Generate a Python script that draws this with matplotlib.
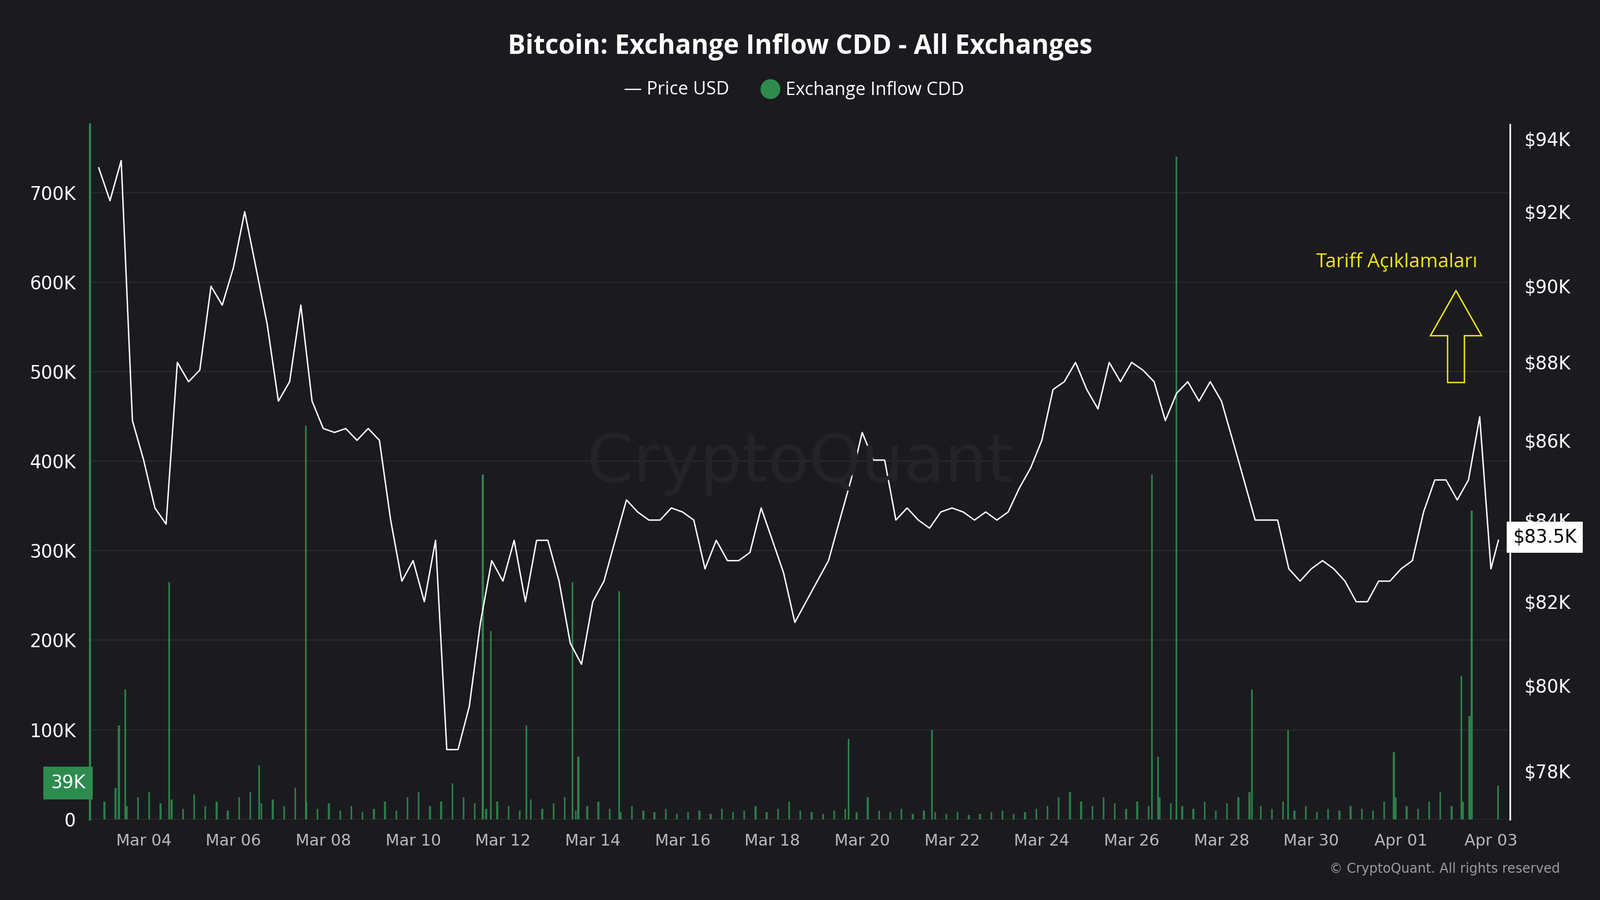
import matplotlib
matplotlib.use("Agg")
import matplotlib.pyplot as plt
import matplotlib.dates as mdates
from matplotlib.patches import FancyArrow, Ellipse
import datetime as dt

start = dt.datetime(2025, 3, 3)
price_k = [93.2, 92.3, 93.4, 86.5,
           85.5, 84.3, 83.9, 88.0,
           87.5, 87.8, 90.0, 89.5,
           90.5, 92.0, 90.5, 89.0,
           87.0, 87.5, 89.5, 87.0,
           86.3, 86.2, 86.3, 86.0,
           86.3, 86.0, 84.0, 82.5,
           83.0, 82.0, 83.5, 78.5,
           78.5, 79.5, 81.5, 83.0,
           82.5, 83.5, 82.0, 83.5,
           83.5, 82.5, 81.0, 80.5,
           82.0, 82.5, 83.5, 84.5,
           84.2, 84.0, 84.0, 84.3,
           84.2, 84.0, 82.8, 83.5,
           83.0, 83.0, 83.2, 84.3,
           83.5, 82.7, 81.5, 82.0,
           82.5, 83.0, 84.0, 85.0,
           86.2, 85.5, 85.5, 84.0,
           84.3, 84.0, 83.8, 84.2,
           84.3, 84.2, 84.0, 84.2,
           84.0, 84.2, 84.8, 85.3,
           86.0, 87.3, 87.5, 88.0,
           87.3, 86.8, 88.0, 87.5,
           88.0, 87.8, 87.5, 86.5,
           87.2, 87.5, 87.0, 87.5,
           87.0, 86.0, 85.0, 84.0,
           84.0, 84.0, 82.8, 82.5,
           82.8, 83.0, 82.8, 82.5,
           82.0, 82.0, 82.5, 82.5,
           82.8, 83.0, 84.2, 85.0,
           85.0, 84.5, 85.0, 86.6,
           82.8, 83.5]
price_hours = [6 * i for i in range(len(price_k) - 1)] + [6 * (len(price_k) - 2) + 4]

small_k = [20, 35, 15, 25, 30, 18, 22, 12, 28, 15, 20, 10, 25, 30, 18, 22,
           15, 35, 20, 12, 18, 10, 15, 8, 12, 20, 10, 25, 30, 15, 20, 40,
           25, 18, 12, 20, 15, 10, 22, 12, 18, 25, 10, 15, 20, 12, 8, 15,
           10, 8, 12, 6, 8, 10, 6, 12, 8, 10, 15, 8, 12, 20, 10, 8,
           6, 10, 12, 8, 25, 10, 8, 12, 6, 10, 8, 6, 8, 5, 6, 8,
           10, 6, 8, 12, 15, 25, 30, 20, 15, 25, 18, 12, 20, 15, 25, 18,
           15, 12, 20, 10, 18, 25, 30, 15, 12, 20, 10, 15, 8, 12, 10, 15,
           12, 10, 20, 25, 15, 12, 20, 30, 15, 20]
spike_day = [0.45, 0.59, 1.57, 3.57, 4.61, 8.55, 8.73, 9.52, 10.55, 10.68, 11.59,
             16.7, 18.55, 23.45, 23.59, 24.0, 25.68, 26.48, 28.84, 30.34, 30.52, 30.57, 31.16]
spike_k = [105, 145, 265, 60, 440, 385, 210, 105, 265, 70, 255,
           90, 100, 385, 70, 740, 145, 100, 75, 160, 115, 345, 38]

bg = "#1b1b1f"
green = "#2e8b4e"
fig = plt.figure(figsize=(16, 9), dpi=180, facecolor=bg)
ax = fig.add_axes([0.0561, 0.0896, 0.8878, 0.7721], facecolor=bg)
ax2 = ax.twinx()

ptimes = [start + dt.timedelta(hours=h) for h in price_hours]
stimes = [start + dt.timedelta(hours=6 * i + 3) for i in range(len(small_k))]
sptimes = [start + dt.timedelta(days=d) for d in spike_day]
w = 1 / 24
ax.bar(stimes, small_k, width=w, color=green, alpha=0.85)
ax.bar(sptimes, spike_k, width=w, color=green, alpha=0.9)
ax2.plot(ptimes, price_k, color="white", lw=1.0)

ax.set_ylim(0, 776)
ax2.set_yscale("log")
ax2.set_ylim(76.9, 94.4)
ax.set_xlim(start + dt.timedelta(days=-0.2), start + dt.timedelta(days=31.43))

ax.set_yticks(range(0, 701, 100))
ax.set_yticklabels(["0"] + [f"{v}K" for v in range(100, 701, 100)])
rt = [78, 80, 82, 84, 86, 88, 90, 92, 94]
ax2.set_yticks(rt)
ax2.set_yticklabels([f"${v}K" for v in rt])
ax2.yaxis.set_minor_locator(matplotlib.ticker.NullLocator())
ax2.yaxis.set_minor_formatter(matplotlib.ticker.NullFormatter())
ax.set_xticks([dt.datetime(2025, 3, d) for d in range(4, 31, 2)] + [dt.datetime(2025, 4, 1), dt.datetime(2025, 4, 3)])
ax.xaxis.set_major_formatter(mdates.DateFormatter("%b %d"))

for a in (ax, ax2):
    a.tick_params(colors="#b8b8be", labelsize=11.5, length=0, pad=10)
    for s in a.spines.values():
        s.set_visible(False)
ax.grid(axis="y", color="#2a2a2f", lw=0.8)
ax.set_axisbelow(True)
ax2.spines["right"].set_visible(True)
ax2.spines["right"].set_color("white")
ax2.spines["right"].set_linewidth(1.2)
ax.spines["left"].set_visible(True)
ax.spines["left"].set_color(green)
ax.spines["left"].set_linewidth(1.5)
ax.tick_params(axis="y", labelsize=13, colors="white")
ax2.tick_params(axis="y", labelsize=13, colors="white")

fig.text(0.5, 0.948, "Bitcoin: Exchange Inflow CDD - All Exchanges", ha="center", va="center",
         color="white", fontsize=19, fontweight="bold", family="Open Sans")
fig.text(0.39, 0.9, "— Price USD", color="white", fontsize=13, va="center", family="Open Sans")
fig.patches.append(Ellipse((0.4815, 0.901), 0.0115, 0.0205, transform=fig.transFigure, color=green))
fig.text(0.491, 0.9, "Exchange Inflow CDD", color="white", fontsize=13, va="center", family="Open Sans")
fig.text(0.5, 0.485, "CryptoQuant", color="#232328", fontsize=48, ha="center", va="center", zorder=0)
fig.text(0.975, 0.03, "© CryptoQuant. All rights reserved", color="#9a9aa0", fontsize=9.5, ha="right")
fig.text(0.873, 0.709, "Tariff Açıklamaları", color="#f2e516", fontsize=14, ha="center", va="center", family="Open Sans")
arr = FancyArrow(0.910, 0.575, 0, 0.102, width=0.0105, head_width=0.032, head_length=0.05,
                 length_includes_head=True, transform=fig.transFigure, facecolor="none",
                 edgecolor="#f2e516", lw=1.0)
fig.patches.append(arr)
fig.text(0.9655, 0.403, "$83.5K", color="black", fontsize=13, ha="center", va="center",
         bbox=dict(facecolor="white", edgecolor="none", boxstyle="square,pad=0.35"))
fig.text(0.0425, 0.13, "39K", color="white", fontsize=13, ha="center", va="center",
         bbox=dict(facecolor=green, edgecolor="none", boxstyle="square,pad=0.4"))
fig.savefig("out.png", dpi=180, facecolor=bg)
